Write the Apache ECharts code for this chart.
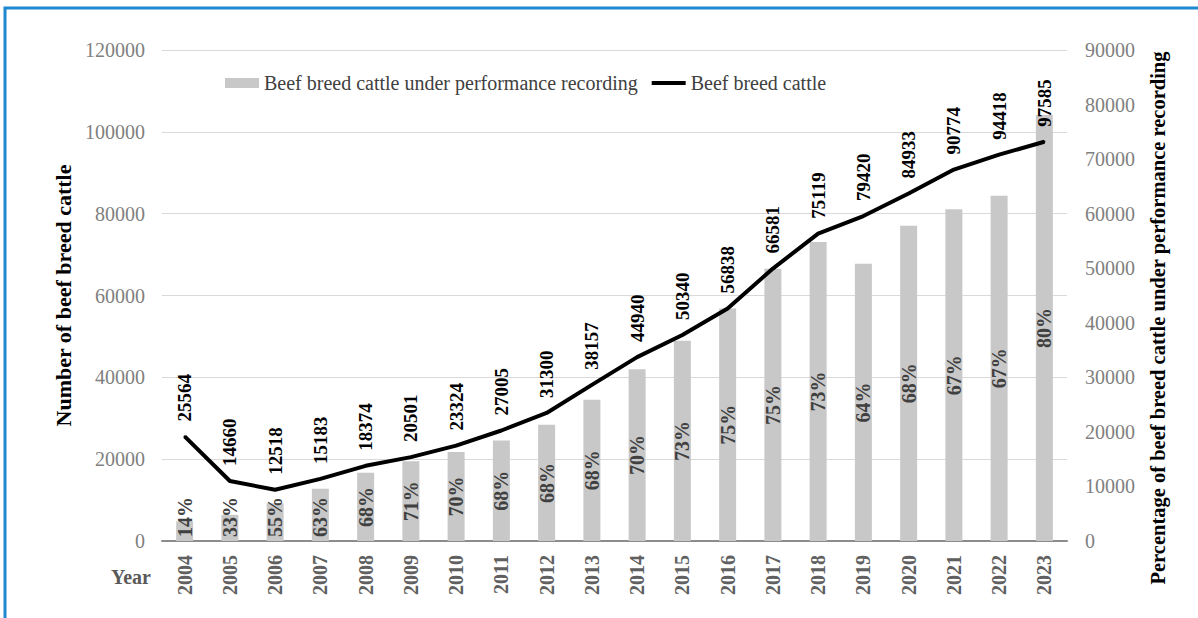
<!DOCTYPE html>
<html>
<head>
<meta charset="utf-8">
<script src="https://cdn.jsdelivr.net/npm/echarts@6/dist/echarts.min.js"></script>
<style>
  html, body { margin: 0; padding: 0; background: #fff; }
  #chart { width: 1198px; height: 618px; }
</style>
</head>
<body>
<div id="chart"></div>
<script>
var years = ['2004', '2005', '2006', '2007', '2008', '2009', '2010', '2011', '2012', '2013',
  '2014', '2015', '2016', '2017', '2018', '2019', '2020', '2021', '2022', '2023'];
var cattleTotal = [25564, 14660, 12518, 15183, 18374, 20501, 23324, 27005, 31300, 38157,
  44940, 50340, 56838, 66581, 75119, 79420, 84933, 90774, 94418, 97585];
var cattleRecorded = [3600, 4800, 6900, 9600, 12500, 14600, 16300, 18400, 21300, 25900,
  31500, 36700, 42600, 49900, 54800, 50800, 57800, 60800, 63300, 78100];
var recordedPct = ['14%', '33%', '55%', '63%', '68%', '71%', '70%', '68%', '68%', '68%',
  '70%', '73%', '75%', '75%', '73%', '64%', '68%', '67%', '67%', '80%'];

(function() {
  var serif = '"Liberation Serif", "Times New Roman", serif';
  var barName = 'Beef breed cattle under performance recording';
  var lineName = 'Beef breed cattle';
  var plain = function(v) { return String(v); };

  var barData = cattleRecorded.map(function(v) {
    var item = { value: v };
    // short bars: keep the label sitting just above the axis
    if (v < 11000) {
      item.label = { position: 'insideBottom', align: 'left', verticalAlign: 'middle', distance: 4 };
    }
    return item;
  });

  var chart = echarts.init(document.getElementById('chart'), null, { renderer: 'svg' });
  chart.setOption({
    animation: false,
    textStyle: { fontFamily: serif },
    graphic: [{
      type: 'rect',
      shape: { x: 5, y: 8, width: 1400, height: 800 },
      style: { fill: 'none', stroke: '#1e88d0', lineWidth: 3 },
      silent: true
    }, {
      type: 'text',
      left: 111,
      top: 567,
      style: { text: 'Year', font: 'bold 20px ' + serif, fill: '#595959' }
    }, {
      // right axis title, centred a little lower than the plot
      type: 'text',
      x: 1158,
      y: 318,
      rotation: Math.PI / 2,
      style: {
        text: 'Percentage of beef breed cattle under performance recording',
        font: 'bold 20.5px ' + serif,
        fill: '#000',
        align: 'center',
        verticalAlign: 'middle'
      }
    }],
    legend: {
      top: 68,
      left: 220,
      itemGap: 14,
      itemWidth: 34,
      itemHeight: 10,
      textStyle: { fontFamily: serif, fontSize: 20, color: '#404040' },
      data: [
        { name: barName, icon: 'rect' },
        { name: lineName, icon: 'path://M0,0 L34,0 L34,4 L0,4 Z' }
      ]
    },
    grid: { left: 162, right: 131, top: 50, bottom: 77 },
    xAxis: {
      type: 'category',
      data: years,
      axisTick: { show: false },
      axisLine: { lineStyle: { color: '#8c8c8c', width: 2 } },
      axisLabel: { rotate: 90, margin: 14, color: '#606060', fontWeight: 'bold', fontSize: 20, fontFamily: serif }
    },
    yAxis: [{
      type: 'value',
      min: 0,
      max: 120000,
      interval: 20000,
      name: 'Number of beef breed cattle',
      nameLocation: 'middle',
      nameGap: 80,
      nameTextStyle: { color: '#000', fontWeight: 'bold', fontSize: 22, fontFamily: serif },
      axisLabel: { color: '#808080', fontSize: 20, margin: 17, fontFamily: serif, formatter: plain },
      axisLine: { show: false },
      axisTick: { show: false },
      splitLine: { lineStyle: { color: '#d9d9d9', width: 1 } }
    }, {
      type: 'value',
      min: 0,
      max: 90000,
      interval: 10000,
      axisLabel: { color: '#808080', fontSize: 20, margin: 18, fontFamily: serif, formatter: plain },
      axisLine: { show: false },
      axisTick: { show: false },
      splitLine: { show: false }
    }],
    series: [{
      name: barName,
      type: 'bar',
      yAxisIndex: 1,
      data: barData,
      barWidth: 17,
      itemStyle: { color: '#c8c8c8' },
      label: {
        show: true,
        position: 'inside',
        rotate: 90,
        color: '#404040',
        fontWeight: 'bold',
        fontSize: 20,
        fontFamily: serif,
        formatter: function(p) { return recordedPct[p.dataIndex]; }
      }
    }, {
      name: lineName,
      type: 'line',
      yAxisIndex: 0,
      data: cattleTotal,
      symbol: 'circle',
      symbolSize: 2,
      lineStyle: { color: '#000', width: 4 },
      itemStyle: { color: '#000' },
      label: {
        show: true,
        position: 'top',
        rotate: 90,
        align: 'left',
        verticalAlign: 'middle',
        distance: 14,
        color: '#000',
        fontWeight: 'bold',
        fontSize: 19,
        fontFamily: serif
      }
    }]
  });
  window.addEventListener('resize', function() { chart.resize(); });
})();
</script>
</body>
</html>
